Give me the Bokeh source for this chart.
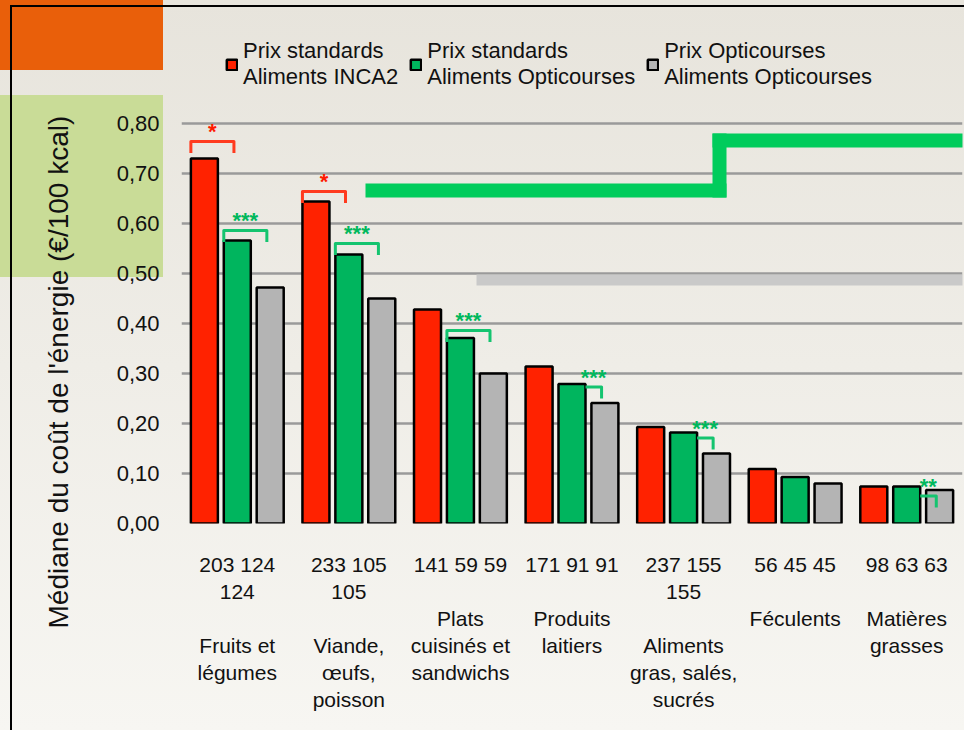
from bokeh.plotting import figure
from bokeh.models import (Range1d, CustomJSTickFormatter, FixedTicker, Title,
                          Legend, LegendItem, BoxAnnotation, ColumnDataSource)
from bokeh.embed import file_html
from bokeh.resources import INLINE
from bokeh.core.properties import value

# ---------------- data ----------------
categories = ["Fruits et légumes", "Viande, œufs, poisson", "Plats cuisinés et sandwichs",
              "Produits laitiers", "Aliments gras, salés, sucrés", "Féculents", "Matières grasses"]
category_lines = ["Fruits et\nlégumes", "Viande,\nœufs,\npoisson", "Plats\ncuisinés et\nsandwichs",
                  "Produits\nlaitiers", "Aliments\ngras, salés,\nsucrés", "Féculents", "Matières\ngrasses"]
n_inca2 = [203, 233, 141, 171, 237, 56, 98]
n_opti = [124, 105, 59, 91, 155, 45, 63]

inca2_std = [0.730, 0.644, 0.428, 0.314, 0.193, 0.109, 0.074]
opti_std = [0.566, 0.538, 0.371, 0.279, 0.182, 0.093, 0.074]
opti_opti = [0.472, 0.450, 0.300, 0.241, 0.140, 0.080, 0.067]

series_labels = ["Prix standards\nAliments INCA2",
                 "Prix standards\nAliments Opticourses",
                 "Prix Opticourses\nAliments Opticourses"]

y_title = "Médiane du coût de l'énergie (€/100 kcal)"
y_ticks = [0.0, 0.1, 0.2, 0.3, 0.4, 0.5, 0.6, 0.7, 0.8]

# significance marks: category index, compared pair (0: red vs green, 1: green vs grey), label, bracket level
sig_category = [0, 0, 1, 1, 2, 3, 4, 6]
sig_pair = [0, 1, 0, 1, 1, 1, 1, 1]
sig_label = ["*", "***", "*", "***", "***", "***", "***", "**"]
sig_level = [0.764, 0.586, 0.664, 0.560, 0.386, 0.273, 0.171, 0.055]

# ---------------- styles ----------------
FONT = "Liberation Sans"
bar_colors = ["#ff2200", "#00b55e", "#b4b4b4"]
offsets = [-0.295, 0.0, 0.295]
bar_w = 0.242
bracket_colors = ["#ff3b1f", "#14c46f"]
star_colors = ["#ff1a00", "#00b85c"]


def count_text(a, b):
    s = f"{a} {b} {b}"
    if len(s) > 9:
        return f"{a} {b}\n{b}"
    return s


centers = [i + 0.5 for i in range(len(categories))]
tick_labels = {c: count_text(a, b) + "\n\n" + nm
               for c, a, b, nm in zip(centers, n_inca2, n_opti, category_lines)}

# the frame reaches above the 0,80 gridline so that the legend sits inside it
p = figure(x_range=Range1d(0, len(categories)), y_range=Range1d(0, 1.006),
           width=964, height=730, output_backend="svg", toolbar_location=None,
           min_border_left=180, min_border_right=2, min_border_top=20, min_border_bottom=207)

p.background_fill_alpha = 0
p.border_fill_alpha = 0
p.outline_line_color = None
p.styles = {
    "background-color": "#eeebe5",
    "background-image": ("linear-gradient(#000,#000), linear-gradient(#000,#000), "
                         "linear-gradient(#e95f0a,#e95f0a), linear-gradient(#c9dc97,#c9dc97), "
                         "linear-gradient(to bottom, #e7e4dc, #f7f6f2)"),
    "background-size": "2px 100%, 100% 2px, 163px 70px, 163px 182px, 100% 100%",
    "background-position": "10px 5px, 10px 5px, 0px 0px, 0px 95px, 0px 0px",
    "background-repeat": "no-repeat",
}

# decorative slide shapes inside the chart area
deco = [
    dict(left=476, right=964, top=274, bottom=285, fill_color="#c9c9c9"),
    dict(left=365, right=726, top=183, bottom=197, fill_color="#00cc5c"),
    dict(left=712, right=726, top=133, bottom=197, fill_color="#00cc5c"),
    dict(left=712, right=964, top=133, bottom=147, fill_color="#00cc5c"),
]
for d in deco:
    p.add_layout(BoxAnnotation(left=d["left"], right=d["right"], top=d["top"], bottom=d["bottom"],
                               left_units="canvas", right_units="canvas",
                               top_units="canvas", bottom_units="canvas",
                               fill_color=d["fill_color"], fill_alpha=1, line_color=None,
                               level="underlay"))

renderers = []
for vals, off, col in zip([inca2_std, opti_std, opti_opti], offsets, bar_colors):
    src = ColumnDataSource(dict(x=[c + off for c in centers], top=vals))
    r = p.vbar(x="x", top="top", width=bar_w, source=src,
               fill_color=col, line_color="black", line_width=2.5)
    renderers.append(r)

# significance brackets
values = [inca2_std, opti_std, opti_opti]
half = bar_w / 2
bx, by, bc, sx, sy, sc = [], [], [], [], [], []
drop = 0.023
for c, pair, lab, lvl in zip(sig_category, sig_pair, sig_label, sig_level):
    cx = centers[c]
    x1 = cx + offsets[pair + 1] - 0.03
    if lvl > values[pair][c]:
        x0 = cx + offsets[pair] - half
        bx.append([x0, x0, x1, x1])
        by.append([lvl - drop, lvl, lvl, lvl - drop])
    else:
        x0 = cx + offsets[pair] + half
        bx.append([x0, x1, x1])
        by.append([lvl, lvl, lvl - drop])
    bc.append(bracket_colors[pair])
    sx.append((x0 + x1) / 2)
    sy.append(lvl + 0.02)
    sc.append(star_colors[pair])

p.multi_line(xs=bx, ys=by, line_color=bc, line_width=3, line_join="round")
p.text(x=sx, y=sy, text=sig_label, text_color=sc, text_font=value(FONT),
       text_font_size="22px", text_font_style="bold", text_align="center", text_baseline="middle")

# axes
p.xgrid.grid_line_color = None
p.ygrid.grid_line_color = "#9a9a9a"
p.ygrid.grid_line_width = 2.5
p.ygrid.ticker = FixedTicker(ticks=y_ticks)

p.yaxis.ticker = FixedTicker(ticks=y_ticks)
p.yaxis.formatter = CustomJSTickFormatter(code="return tick.toFixed(2).replace('.', ',')")
p.yaxis.axis_line_color = None
p.yaxis.major_tick_line_color = None
p.yaxis.minor_tick_line_color = None
p.yaxis.major_tick_out = 0
p.yaxis.major_label_standoff = 22
p.yaxis.major_label_text_font = FONT
p.yaxis.major_label_text_font_size = "22px"
p.yaxis.major_label_text_color = "#111111"

# y-axis title, placed as a left-side title so that it can sit lower than the frame centre
p.add_layout(Title(text=y_title, align="left", offset=-105, standoff=80,
                   text_font=FONT, text_font_size="28px", text_font_style="normal",
                   text_color="#111111"), "left")

p.xaxis.ticker = FixedTicker(ticks=centers)
p.xaxis.axis_line_color = None
p.xaxis.major_tick_line_color = None
p.xaxis.minor_tick_line_color = None
p.xaxis.major_tick_out = 0
p.xaxis.major_label_standoff = 29
p.xaxis.major_label_overrides = tick_labels
p.xaxis.major_label_text_font = FONT
p.xaxis.major_label_text_font_size = "21px"
p.xaxis.major_label_text_color = "#111111"
p.xaxis.major_label_text_line_height = 1.18

legend = Legend(items=[LegendItem(label=lab, renderers=[r]) for lab, r in zip(series_labels, renderers)],
                orientation="horizontal", location=(44, 433),
                glyph_width=13, glyph_height=13, label_standoff=5, spacing=11, padding=0, margin=0,
                border_line_color=None, background_fill_alpha=0,
                label_text_font=FONT, label_text_font_size="22px", label_text_color="#111111",
                label_text_line_height=1.45)
p.add_layout(legend, "center")

open("out.html", "w").write(file_html(p, INLINE))
